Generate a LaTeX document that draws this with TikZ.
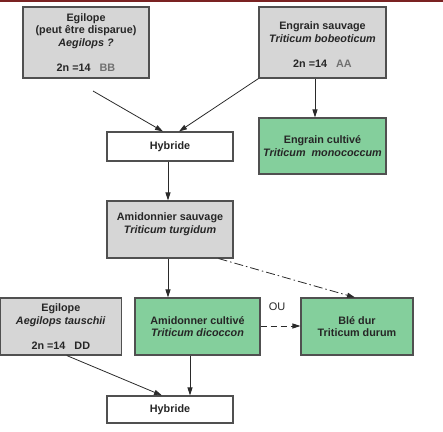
\documentclass[tikz,border=0pt]{standalone}
\usepackage{fontspec}
\setmainfont{Liberation Sans}
\usetikzlibrary{arrows.meta,calc}
\definecolor{boxgray}{HTML}{D6D6D6}
\definecolor{boxgreen}{HTML}{84CF9C}
\definecolor{edgegray}{HTML}{505050}
\definecolor{linegray}{HTML}{2A2A2A}
\definecolor{barred}{HTML}{7A2222}
\definecolor{lightlabel}{HTML}{707070}
\tikzset{
  box/.style={draw=edgegray, line width=1.1pt, rectangle, inner sep=0pt, align=center,
    font=\fontsize{10.8}{12.7}\selectfont\bfseries, text=black!85},
  graybox/.style={box, fill=boxgray},
  greenbox/.style={box, fill=boxgreen},
  whitebox/.style={box, fill=white},
  conn/.style={draw=linegray, line width=0.8pt, -{Triangle[length=8pt,width=5pt]}},
}
\begin{document}
\begin{tikzpicture}[x=1pt,y=-1pt]
\useasboundingbox (0,0) rectangle (443,431);
\fill[barred] (0,0) rectangle (443,2.2);
\node[graybox, minimum width=126, minimum height=71] (egA) at (86,42.5)
  {Egilope\\(peut être disparue)\\\textit{Aegilops ?}\\[12.7pt]2n =14\ \ \ \textcolor{lightlabel}{BB}};
\node[graybox, minimum width=127, minimum height=71] (engS) at (322.5,42.5)
  {\mbox{}\\Engrain sauvage\\\textit{Triticum bobeoticum}\\[12.7pt]2n =14\ \ \ \textcolor{lightlabel}{AA}};
\node[whitebox, minimum width=126, minimum height=29] (hyb1) at (170,146.5) {Hybride};
\node[greenbox, minimum width=127, minimum height=56] (engC) at (322.5,146)
  {Engrain cultivé\\\textit{Triticum\ \ monococcum}};
\node[graybox, minimum width=126, minimum height=57] (amiS) at (170,229.5)
  {Amidonnier sauvage\\\textit{Triticum turgidum}\\\mbox{}};
\node[graybox, minimum width=120.5, minimum height=57] (egT) at (60.8,326.5)
  {Egilope\\\textit{Aegilops tauschii}\\[12.7pt]2n =14\ \ \ DD};
\node[greenbox, minimum width=125, minimum height=57] (amiC) at (197.5,326.5)
  {Amidonner cultivé\\\textit{Triticum dicoccon}};
\node[greenbox, minimum width=112, minimum height=57] (ble) at (357,326.5)
  {Blé dur\\Triticum durum};
\node[whitebox, minimum width=126, minimum height=27] (hyb2) at (170,409.5) {Hybride};
\node[font=\fontsize{11}{13}\selectfont, text=black!85] (ou) at (277,307) {OU};
\coordinate (fromEgA) at (93,91);
\coordinate (a1) at ($(amiS.south)+(-2,0)$);
\coordinate (a2) at (a1 |- amiC.north);
\coordinate (c1) at ($(amiC.south)+(-7.5,0)$);
\coordinate (c2) at (c1 |- hyb2.north);
\draw[conn] (fromEgA) -- ($(hyb1.north)+(-7,0)$);
\draw[conn] (engS.south west) -- ($(hyb1.north)+(9,0)$);
\draw[conn] ($(engS.south)+(-7.5,0)$) -- ($(engC.north)+(-7.5,0)$);
\draw[conn] ($(hyb1.south)+(-2,0)$) -- ($(amiS.north)+(-2,0)$);
\draw[conn] (a1) -- (a2);
\draw[conn, dash pattern=on 9pt off 3pt on 1.5pt off 3pt] ($(amiS.south east)+(-15,0)$) -- ($(ble.north)+(-2,0)$);
\draw[conn, dash pattern=on 6pt off 4pt] ($(amiC.east)+(0,-0.5)$) -- ($(ble.west)+(0,-0.5)$);
\draw[conn] ($(egT.south)+(6,0)$) -- ($(hyb2.north)+(-8,0)$);
\draw[conn] (c1) -- (c2);
\end{tikzpicture}
\end{document}
